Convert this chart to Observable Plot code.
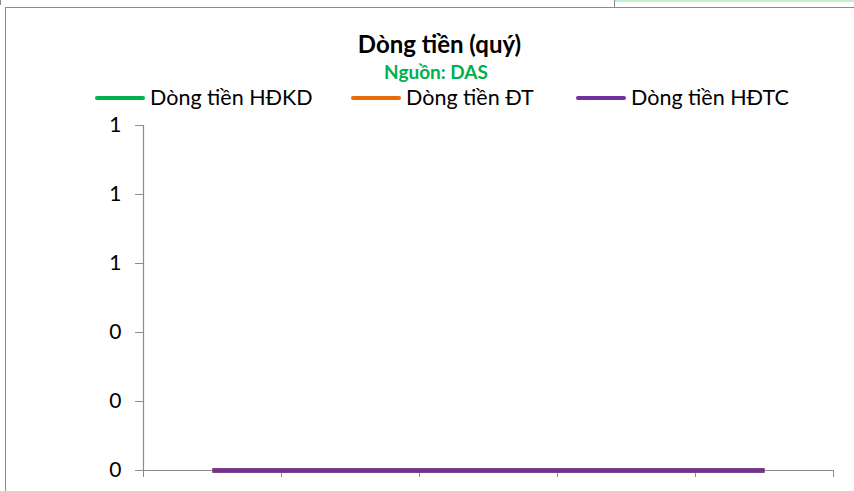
<!DOCTYPE html>
<html>
<head>
<meta charset="utf-8">
<script src="https://cdn.jsdelivr.net/npm/d3@7"></script>
<script src="https://cdn.jsdelivr.net/npm/@observablehq/plot@0.6"></script>
<style>
  html, body { margin: 0; padding: 0; background: #fff; }
  #wrap { position: relative; width: 854px; height: 491px; overflow: hidden; font-family: Lato, "Open Sans", sans-serif; color: #000; }
  .frameTop { position: absolute; left: 5px; top: 7px; width: 849px; height: 0; border-top: 1.5px solid #8c8c8c; }
  .frameLeft { position: absolute; left: 5px; top: 7px; width: 0; height: 484px; border-left: 1.5px solid #8c8c8c; }
  .greenCell { position: absolute; left: 615px; top: 0; width: 239px; height: 2px; background: #c6efce; }
  .cellLine { position: absolute; left: 614px; top: 0; width: 0; height: 7px; border-left: 1px solid #8c8c8c; }
  .cellLine2 { position: absolute; left: 0px; top: 0; width: 0; height: 5px; border-left: 1px solid #8c8c8c; }
  #title { position: absolute; left: 0; width: 879px; top: 32px; line-height: 1; text-align: center; font-weight: bold; font-size: 24px; }
  #subtitle { position: absolute; left: 0; width: 872px; top: 62px; line-height: 1; text-align: center; font-weight: bold; font-size: 19px; color: #00B050; }
  .leg { position: absolute; top: 87px; line-height: 1; display: flex; align-items: center; font-size: 21.5px; white-space: nowrap; }
  .leg .sw { width: 50px; height: 4px; border-radius: 2px; margin-right: 5px; }
  #chart { position: absolute; left: 0; top: 0; }
</style>
</head>
<body>
<div id="wrap">
  <div class="greenCell"></div>
  <div class="cellLine"></div>
  <div class="cellLine2"></div>
  <div class="frameTop"></div>
  <div class="frameLeft"></div>
  <div id="chart"></div>
  <div id="title"></div>
  <div id="subtitle"></div>
  <div id="legend"></div>
</div>
<script>
const titleText = "Dòng tiền (quý)";
const subtitleText = "Nguồn: DAS";
const categories = ["Q1", "Q2", "Q3", "Q4", "Q5"];
const seriesNames = ["Dòng tiền HĐKD", "Dòng tiền ĐT", "Dòng tiền HĐTC"];
const seriesColors = ["#00B050", "#E46C0A", "#7030A0"];
const hdkd = [0, 0, 0, 0, 0];
const dt = [0, 0, 0, 0, 0];
const hdtc = [0, 0, 0, 0, 0];
const yTicks = [0, 0.2, 0.4, 0.6, 0.8, 1];

document.getElementById("title").textContent = titleText;
document.getElementById("subtitle").textContent = subtitleText;

const legendLefts = [95, 351, 576];
const legend = document.getElementById("legend");
seriesNames.forEach((n, i) => {
  const d = document.createElement("div");
  d.className = "leg";
  d.style.left = legendLefts[i] + "px";
  const sw = document.createElement("div");
  sw.className = "sw";
  sw.style.background = seriesColors[i];
  const t = document.createElement("span");
  t.textContent = n;
  d.appendChild(sw); d.appendChild(t);
  legend.appendChild(d);
});

const allSeries = [hdkd, dt, hdtc];
const rows = [];
allSeries.forEach((vals, s) => vals.forEach((v, i) => rows.push({series: seriesNames[s], idx: i + 0.5, cat: categories[i], value: v})));

const chart = Plot.plot({
  width: 854,
  height: 491,
  marginTop: 125,
  marginBottom: 21,
  marginLeft: 143,
  marginRight: 21,
  style: {background: "transparent", fontFamily: "Lato, 'Open Sans', sans-serif", fontSize: "21px", color: "#000"},
  x: {type: "linear", domain: [0, categories.length]},
  y: {domain: [0, 1]},
  color: {domain: seriesNames, range: seriesColors},
  marks: [
    Plot.ruleX([0], {stroke: "#8c8c8c", strokeWidth: 1.2}),
    Plot.axisY({ticks: yTicks, tickFormat: d3.format(".0f"), tickSize: 8, tickPadding: 14, stroke: "#8c8c8c", label: null, fill: "#000"}),
    Plot.axisX({ticks: d3.range(categories.length + 1), tickFormat: () => "", tickSize: 7, stroke: "#8c8c8c", label: null}),
    Plot.ruleY([0], {stroke: "#8c8c8c", strokeWidth: 1.2}),
    Plot.line(rows, {x: "idx", y: "value", z: "series", stroke: "series", strokeWidth: 4.5, strokeLinecap: "butt"})
  ]
});
document.getElementById("chart").appendChild(chart);
</script>
</body>
</html>
